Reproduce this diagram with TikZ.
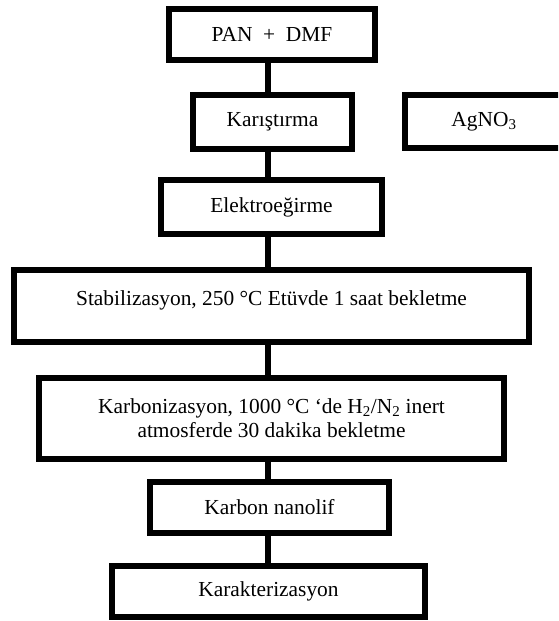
\documentclass[tikz,border=0pt]{standalone}
\usepackage{fontspec}
\setmainfont{Liberation Serif}
\begin{document}
\begin{tikzpicture}[x=1pt,y=-1pt,
  box/.style={draw=black, line width=6pt, rectangle, inner sep=0pt, align=center, font=\fontsize{21.4}{23.5}\selectfont},
  txt/.style={inner sep=0pt, align=center, font=\fontsize{21.4}{23.5}\selectfont},
  link/.style={draw=black, line width=6pt}]
\clip (0,0) rectangle (558,621);
\node[box, minimum width=206pt, minimum height=51pt] (pan) at (272,34.5) {PAN~~+~~DMF};
\node[box, minimum width=159pt, minimum height=54pt] (kar) at (272.5,122) {Karıştırma};
\node[box, minimum width=158pt, minimum height=53pt] (ag) at (484,121.5) {AgNO\textsubscript{3}};
\node[box, minimum width=221pt, minimum height=54pt] (ele) at (271.5,207) {Elektroeğirme};
\node[box, minimum width=515pt, minimum height=72pt] (stab) at (271.5,306) {};
\node[txt] (stabt) at (271.5,300) {Stabilizasyon, 250 °C Etüvde 1 saat bekletme};
\node[box, minimum width=465pt, minimum height=81pt] (karb) at (271.5,418) {Karbonizasyon, 1000 °C ‘de H\textsubscript{2}/N\textsubscript{2} inert\\atmosferde 30 dakika bekletme};
\node[box, minimum width=239pt, minimum height=51pt] (nano) at (269.5,507.5) {Karbon nanolif};
\node[box, minimum width=313pt, minimum height=51pt] (krk) at (268.5,591.5) {Karakterizasyon};
\coordinate (spine) at (268,0);
\draw[link] (pan.south -| spine) -- (kar.north -| spine);
\draw[link] (kar.south -| spine) -- (ele.north -| spine);
\draw[link] (ele.south -| spine) -- (stab.north -| spine);
\draw[link] (stab.south -| spine) -- (karb.north -| spine);
\draw[link] (karb.south -| spine) -- (nano.north -| spine);
\draw[link] (nano.south -| spine) -- (krk.north -| spine);
\end{tikzpicture}
\end{document}
